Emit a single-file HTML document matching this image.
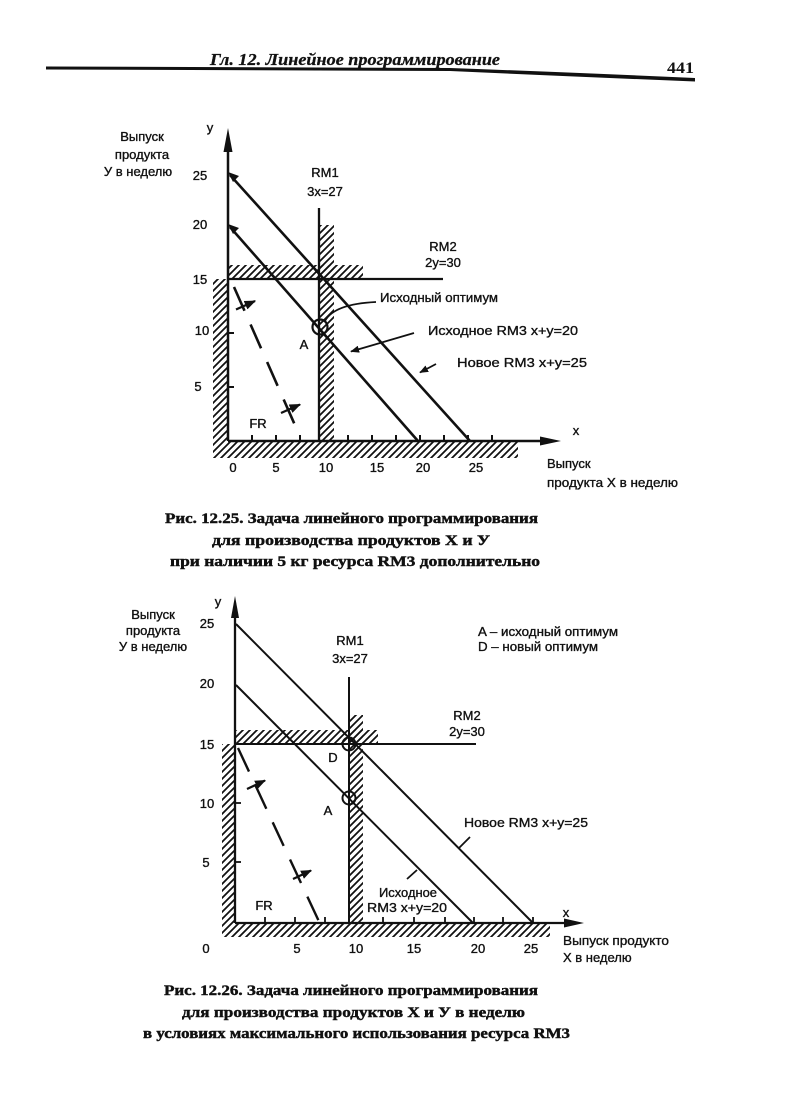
<!DOCTYPE html>
<html><head><meta charset="utf-8"><style>
html,body{margin:0;padding:0;background:#fff;}
svg{display:block;}
.s{font-family:"Liberation Sans","DejaVu Sans",sans-serif;font-size:13px;fill:#111;stroke:#111;stroke-width:0.35;}
.c{font-family:"Liberation Serif","DejaVu Serif",serif;font-weight:bold;font-size:15px;fill:#111;stroke:#111;stroke-width:0.45;}
</style></head><body>
<svg width="800" height="1095" viewBox="0 0 800 1095" xmlns="http://www.w3.org/2000/svg">
<defs>
<pattern id="h" patternUnits="userSpaceOnUse" width="7" height="7">
<path d="M-1,8 L8,-1 M-2,2 L2,-2 M5,9 L9,5" stroke="#111" stroke-width="1.8"/>
</pattern>
<marker id="ar" viewBox="0 0 10 10" refX="9" refY="5" markerWidth="5" markerHeight="5" orient="auto">
<path d="M0,1 L10,5 L0,9 Z" fill="#111"/>
</marker>
</defs>

<!-- Header -->
<text x="210" y="65" font-family="Liberation Serif,serif" font-style="italic" font-weight="bold" font-size="17" fill="#111" stroke="#111" stroke-width="0.3" textLength="290" lengthAdjust="spacingAndGlyphs">Гл. 12. Линейное программирование</text>
<text x="667" y="73" font-family="Liberation Serif,serif" font-weight="bold" font-size="16" fill="#111" textLength="27" lengthAdjust="spacingAndGlyphs">441</text>
<path d="M46,66.5 L450,68 Q560,72 695,78 L695,81.5 Q560,76 450,71 L46,69.5 Z" fill="#111"/>

<!-- ================= FIGURE 1 ================= -->
<g>
<rect x="213" y="279" width="15" height="162" fill="url(#h)"/>
<rect x="228" y="265" width="135" height="14" fill="url(#h)"/>
<rect x="319" y="225" width="15" height="216" fill="url(#h)"/>
<rect x="213" y="441" width="305" height="17" fill="url(#h)"/>

<line x1="228" y1="441" x2="228" y2="148" stroke="#111" stroke-width="2.5"/>
<path d="M228,128 L232.5,152 L223.5,152 Z" fill="#111"/>
<line x1="228" y1="441" x2="542" y2="441" stroke="#111" stroke-width="2.5"/>
<path d="M561,441 L540,436.5 L540,445.5 Z" fill="#111"/>

<g stroke="#111" stroke-width="2">
<line x1="252" y1="441" x2="252" y2="435"/><line x1="276" y1="441" x2="276" y2="435"/>
<line x1="300" y1="441" x2="300" y2="435"/><line x1="348" y1="441" x2="348" y2="435"/>
<line x1="372" y1="441" x2="372" y2="435"/><line x1="396" y1="441" x2="396" y2="435"/>
<line x1="420" y1="441" x2="420" y2="435"/><line x1="444" y1="441" x2="444" y2="435"/>
<line x1="468" y1="441" x2="468" y2="435"/><line x1="492" y1="441" x2="492" y2="435"/>
<line x1="228" y1="387" x2="234" y2="387"/><line x1="228" y1="333" x2="234" y2="333"/>
</g>

<line x1="319" y1="208" x2="319" y2="441" stroke="#111" stroke-width="2.3"/>
<line x1="228" y1="279" x2="443" y2="279" stroke="#111" stroke-width="2.3"/>
<line x1="230" y1="175" x2="470" y2="441" stroke="#111" stroke-width="2.6"/>
<line x1="230" y1="227" x2="418" y2="441" stroke="#111" stroke-width="2.6"/>
<path d="M228,172 L239,176 L233,182 Z" fill="#111"/>
<path d="M228,224 L239,228 L233,234 Z" fill="#111"/>

<line x1="234" y1="287" x2="298" y2="432" stroke="#111" stroke-width="2.6" stroke-dasharray="26 15"/>
<line x1="236" y1="309.5" x2="255" y2="301" stroke="#111" stroke-width="2.3" marker-end="url(#ar)"/>
<line x1="281" y1="413" x2="300" y2="404.5" stroke="#111" stroke-width="2.3" marker-end="url(#ar)"/>

<circle cx="320" cy="327" r="7.5" fill="none" stroke="#111" stroke-width="2.2"/>

<path d="M325,321 Q334,304 376,302" fill="none" stroke="#111" stroke-width="1.8"/>
<line x1="414" y1="333" x2="351" y2="351.5" stroke="#111" stroke-width="1.8" marker-end="url(#ar)"/>
<line x1="436" y1="364" x2="420" y2="372.5" stroke="#111" stroke-width="1.8" marker-end="url(#ar)"/>

<g class="s" text-anchor="middle">
<text x="142" y="141">Выпуск</text>
<text x="142" y="159">продукта</text>
<text x="138" y="176">У в неделю</text>
<text x="210" y="132">y</text>
<text x="200" y="180">25</text>
<text x="200" y="229">20</text>
<text x="200" y="284">15</text>
<text x="202" y="335">10</text>
<text x="198" y="391">5</text>
<text x="233" y="472">0</text>
<text x="276" y="472">5</text>
<text x="326" y="472">10</text>
<text x="377" y="472">15</text>
<text x="423" y="472">20</text>
<text x="476" y="472">25</text>
<text x="325" y="177">RM1</text>
<text x="325" y="196">3x=27</text>
<text x="443" y="251">RM2</text>
<text x="443" y="267">2y=30</text>
<text x="304" y="349">A</text>
<text x="258" y="428">FR</text>
<text x="576" y="435">x</text>
</g>
<g class="s">
<text x="380" y="302" textLength="118" lengthAdjust="spacingAndGlyphs">Исходный оптимум</text>
<text x="428" y="335" textLength="150" lengthAdjust="spacingAndGlyphs">Исходное RM3  x+y=20</text>
<text x="457" y="367" textLength="130" lengthAdjust="spacingAndGlyphs">Новое RM3  x+y=25</text>
<text x="547" y="468">Выпуск</text>
<text x="547" y="487" textLength="131" lengthAdjust="spacingAndGlyphs">продукта X в неделю</text>
</g>
</g>

<g class="c">
<text x="165" y="523" textLength="373" lengthAdjust="spacingAndGlyphs">Рис. 12.25. Задача линейного программирования</text>
<text x="212" y="545" textLength="278" lengthAdjust="spacingAndGlyphs">для производства продуктов X и У</text>
<text x="170" y="566" textLength="370" lengthAdjust="spacingAndGlyphs">при наличии 5 кг ресурса RM3 дополнительно</text>
</g>

<!-- ================= FIGURE 2 ================= -->
<g>
<rect x="222" y="744" width="13" height="179" fill="url(#h)"/>
<rect x="235" y="730" width="143" height="14" fill="url(#h)"/>
<rect x="349" y="715" width="14" height="208" fill="url(#h)"/>
<rect x="222" y="923" width="328" height="14" fill="url(#h)"/>

<line x1="235" y1="923" x2="235" y2="614" stroke="#111" stroke-width="2.3"/>
<path d="M235,596 L239,618 L231,618 Z" fill="#111"/>
<line x1="235" y1="923" x2="566" y2="923" stroke="#111" stroke-width="2.3"/>
<path d="M584,923 L564,918.5 L564,927.5 Z" fill="#111"/>

<g stroke="#111" stroke-width="1.8">
<line x1="265" y1="923" x2="265" y2="917"/><line x1="295" y1="923" x2="295" y2="917"/>
<line x1="325" y1="923" x2="325" y2="917"/><line x1="383" y1="923" x2="383" y2="917"/>
<line x1="414" y1="923" x2="414" y2="917"/><line x1="445" y1="923" x2="445" y2="917"/>
<line x1="474" y1="923" x2="474" y2="917"/><line x1="503" y1="923" x2="503" y2="917"/>
<line x1="533" y1="923" x2="533" y2="917"/>
<line x1="235" y1="862" x2="241" y2="862"/><line x1="235" y1="803" x2="241" y2="803"/>
</g>

<line x1="349" y1="677" x2="349" y2="923" stroke="#111" stroke-width="2"/>
<line x1="235" y1="744" x2="476" y2="744" stroke="#111" stroke-width="2"/>
<line x1="236" y1="624" x2="533" y2="923" stroke="#111" stroke-width="2"/>
<line x1="236" y1="685" x2="473" y2="923" stroke="#111" stroke-width="2"/>

<line x1="238" y1="748" x2="322" y2="928" stroke="#111" stroke-width="2.4" stroke-dasharray="26 15"/>
<line x1="247" y1="789" x2="265" y2="780.5" stroke="#111" stroke-width="2.2" marker-end="url(#ar)"/>
<line x1="293" y1="879" x2="311" y2="870.5" stroke="#111" stroke-width="2.2" marker-end="url(#ar)"/>

<circle cx="349" cy="744" r="6.5" fill="none" stroke="#111" stroke-width="2"/>
<circle cx="349" cy="798" r="6.5" fill="none" stroke="#111" stroke-width="2"/>

<line x1="470" y1="837" x2="459" y2="848" stroke="#111" stroke-width="1.8"/>
<line x1="417" y1="870" x2="407" y2="879" stroke="#111" stroke-width="1.8"/>

<g class="s" text-anchor="middle">
<text x="153" y="619">Выпуск</text>
<text x="153" y="635">продукта</text>
<text x="153" y="651">У в неделю</text>
<text x="218" y="606">y</text>
<text x="207" y="628">25</text>
<text x="207" y="688">20</text>
<text x="207" y="749">15</text>
<text x="207" y="808">10</text>
<text x="206" y="867">5</text>
<text x="206" y="953">0</text>
<text x="297" y="953">5</text>
<text x="356" y="953">10</text>
<text x="414" y="953">15</text>
<text x="478" y="953">20</text>
<text x="531" y="953">25</text>
<text x="350" y="645">RM1</text>
<text x="350" y="663">3x=27</text>
<text x="467" y="720">RM2</text>
<text x="467" y="736">2y=30</text>
<text x="333" y="762">D</text>
<text x="328" y="815">A</text>
<text x="264" y="910">FR</text>
<text x="566" y="917">x</text>
</g>
<g class="s">
<text x="478" y="636" textLength="140" lengthAdjust="spacingAndGlyphs">A – исходный оптимум</text>
<text x="478" y="651" textLength="120" lengthAdjust="spacingAndGlyphs">D – новый оптимум</text>
<text x="464" y="827" textLength="124" lengthAdjust="spacingAndGlyphs">Новое RM3  x+y=25</text>
<text x="379" y="897" textLength="58" lengthAdjust="spacingAndGlyphs">Исходное</text>
<text x="367" y="912" textLength="80" lengthAdjust="spacingAndGlyphs">RM3  x+y=20</text>
<text x="563" y="945" textLength="106" lengthAdjust="spacingAndGlyphs">Выпуск продукто</text>
<text x="563" y="962">X в неделю</text>
</g>
</g>

<g class="c">
<text x="164" y="995" textLength="374" lengthAdjust="spacingAndGlyphs">Рис. 12.26. Задача линейного программирования</text>
<text x="182" y="1017" textLength="343" lengthAdjust="spacingAndGlyphs">для производства продуктов X и У в неделю</text>
<text x="143" y="1038" textLength="427" lengthAdjust="spacingAndGlyphs">в условиях максимального использования ресурса RM3</text>
</g>
</svg>
</body></html>
